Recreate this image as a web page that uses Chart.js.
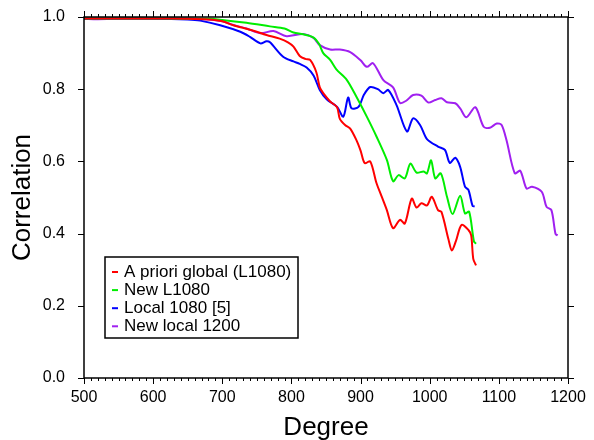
<!DOCTYPE html>
<html>
<head>
<meta charset="utf-8">
<script src="https://cdn.jsdelivr.net/npm/chart.js@4.4.0/dist/chart.umd.min.js"></script>
<style>
  html, body { margin: 0; padding: 0; background: #fff; }
  #wrap { width: 594px; height: 440px; }
</style>
</head>
<body>
<div id="wrap"><canvas id="chart" width="594" height="440"></canvas></div>
<script>
// Series (degree, correlation)
const seriesLabels = ['A priori global (L1080)', 'New L1080', 'Local 1080 [5]', 'New local 1200'];

const degRed = [500, 550, 600, 650, 680, 700, 716, 730, 745, 764, 783, 795, 803, 812, 820, 827, 836, 841, 846, 856, 866, 870, 878, 885, 894, 900, 906, 914, 923, 930, 938, 947, 957, 964, 974, 981, 988, 996, 1003, 1012, 1017, 1027, 1032, 1038, 1046, 1056, 1060, 1063, 1067];
const corrRed = [0.996, 0.996, 0.996, 0.995, 0.993, 0.988, 0.977, 0.970, 0.962, 0.950, 0.940, 0.930, 0.918, 0.892, 0.884, 0.881, 0.847, 0.805, 0.789, 0.766, 0.750, 0.718, 0.700, 0.691, 0.659, 0.630, 0.595, 0.600, 0.540, 0.505, 0.465, 0.415, 0.438, 0.428, 0.497, 0.472, 0.484, 0.478, 0.502, 0.465, 0.460, 0.385, 0.353, 0.380, 0.424, 0.410, 0.395, 0.330, 0.312];

const degGreen = [500, 600, 680, 700, 735, 769, 790, 803, 817, 832, 840, 846, 856, 865, 880, 894, 909, 923, 938, 947, 955, 964, 972, 981, 991, 996, 1002, 1008, 1016, 1025, 1033, 1044, 1051, 1057, 1064, 1067];
const corrGreen = [0.996, 0.996, 0.995, 0.992, 0.984, 0.974, 0.968, 0.957, 0.952, 0.943, 0.925, 0.900, 0.881, 0.855, 0.826, 0.779, 0.724, 0.669, 0.604, 0.545, 0.562, 0.553, 0.594, 0.569, 0.572, 0.567, 0.603, 0.553, 0.567, 0.502, 0.454, 0.505, 0.456, 0.461, 0.378, 0.372];

const degBlue = [500, 600, 650, 668, 697, 726, 740, 755, 764, 769, 788, 803, 812, 822, 832, 841, 851, 866, 875, 882, 887, 897, 905, 914, 925, 933, 940, 952, 967, 976, 986, 996, 1012, 1022, 1029, 1037, 1044, 1051, 1056, 1062, 1065];
const corrBlue = [0.995, 0.995, 0.993, 0.990, 0.977, 0.959, 0.945, 0.927, 0.933, 0.930, 0.890, 0.877, 0.870, 0.860, 0.838, 0.798, 0.772, 0.751, 0.724, 0.777, 0.747, 0.751, 0.785, 0.806, 0.800, 0.789, 0.798, 0.756, 0.683, 0.719, 0.701, 0.662, 0.641, 0.632, 0.596, 0.610, 0.585, 0.530, 0.521, 0.477, 0.475];

const degPurple = [500, 520, 560, 600, 640, 680, 700, 716, 735, 755, 774, 793, 817, 832, 841, 856, 870, 885, 900, 909, 918, 933, 947, 957, 966, 976, 988, 998, 1008, 1017, 1025, 1037, 1044, 1053, 1066, 1078, 1087, 1097, 1104, 1111, 1123, 1131, 1140, 1148, 1162, 1169, 1176, 1182, 1185];
const corrPurple = [0.995, 0.994, 0.996, 0.995, 0.996, 0.993, 0.988, 0.978, 0.968, 0.955, 0.961, 0.947, 0.953, 0.942, 0.922, 0.910, 0.910, 0.903, 0.880, 0.862, 0.872, 0.825, 0.805, 0.762, 0.768, 0.784, 0.782, 0.763, 0.770, 0.775, 0.764, 0.761, 0.747, 0.722, 0.750, 0.696, 0.693, 0.705, 0.701, 0.659, 0.567, 0.574, 0.525, 0.530, 0.516, 0.474, 0.465, 0.399, 0.395];

const seriesColors = ['#ff0000', '#00ee00', '#0000ff', '#a020f0'];

const xTicks = [500, 600, 700, 800, 900, 1000, 1100, 1200];
const yTicks = [0.0, 0.2, 0.4, 0.6, 0.8, 1.0];

const fontFamily = '"Liberation Sans", Arial, Helvetica, sans-serif';

function points(degs, vals) {
    return degs.map((d, i) => ({ x: d, y: vals[i] }));
}

// Frame, ticks on all four sides, and the boxed legend
const framePlugin = {
    id: 'frame',
    afterDraw(chart) {
        const { ctx, chartArea: a, scales: { x, y } } = chart;
        ctx.save();
        ctx.strokeStyle = '#000';
        ctx.lineWidth = 1.5;
        ctx.strokeRect(a.left, a.top, a.right - a.left, a.bottom - a.top);

        ctx.lineWidth = 1;
        ctx.beginPath();
        for (let d = 500; d <= 1200; d += 10) {
            const px = Math.round(x.getPixelForValue(d)) + 0.5;
            const len = d % 100 === 0 ? 6 : 3;
            ctx.moveTo(px, a.bottom); ctx.lineTo(px, a.bottom + len);
            ctx.moveTo(px, a.top); ctx.lineTo(px, a.top - len);
        }
        yTicks.forEach(v => {
            const py = Math.round(y.getPixelForValue(v)) + 0.5;
            ctx.moveTo(a.left, py); ctx.lineTo(a.left - 6, py);
            ctx.moveTo(a.right, py); ctx.lineTo(a.right + 6, py);
        });
        ctx.stroke();

        // legend
        const bx = 105, by = 257, bw = 193, bh = 81;
        ctx.fillStyle = '#fff';
        ctx.fillRect(bx, by, bw, bh);
        ctx.lineWidth = 1.5;
        ctx.strokeRect(bx, by, bw, bh);
        ctx.font = '17px ' + fontFamily;
        ctx.textBaseline = 'middle';
        seriesLabels.forEach((lab, i) => {
            const ry = by + 15 + i * 18.1;
            ctx.strokeStyle = seriesColors[i];
            ctx.lineWidth = 2;
            ctx.beginPath();
            ctx.moveTo(112, ry); ctx.lineTo(118, ry);
            ctx.stroke();
            ctx.fillStyle = '#000';
            ctx.fillText(lab, 124, ry);
        });
        ctx.restore();
    }
};

const datasets = [
    [degRed, corrRed],
    [degGreen, corrGreen],
    [degBlue, corrBlue],
    [degPurple, corrPurple]
].map(([d, v], i) => ({
    label: seriesLabels[i],
    data: points(d, v),
    borderColor: seriesColors[i],
    backgroundColor: seriesColors[i],
    borderWidth: 2,
    pointRadius: 0,
    tension: 0.3,
    fill: false
}));

new Chart(document.getElementById('chart'), {
    type: 'line',
    data: { datasets: datasets },
    options: {
        responsive: false,
        animation: false,
        layout: { padding: { top: 17, right: 26, left: 0, bottom: 0 } },
        plugins: {
            legend: { display: false },
            tooltip: { enabled: false }
        },
        scales: {
            x: {
                type: 'linear',
                min: 500,
                max: 1200,
                afterBuildTicks: s => { s.ticks = xTicks.map(v => ({ value: v })); },
                afterFit: s => { s.height = 62; s.paddingRight = 0; s.paddingLeft = 0; },
                grid: { display: false },
                border: { display: false },
                ticks: {
                    color: '#000',
                    padding: 2,
                    callback: v => String(v),
                    font: { family: fontFamily, size: 16 },
                    maxRotation: 0
                },
                title: {
                    display: true,
                    text: 'Degree',
                    color: '#000',
                    padding: { top: 0, bottom: -1 },
                    font: { family: fontFamily, size: 26, lineHeight: 1.0 }
                }
            },
            y: {
                min: 0,
                max: 1,
                afterBuildTicks: s => { s.ticks = yTicks.map(v => ({ value: v })); },
                afterFit: s => { s.width = 84; s.paddingTop = 0; s.paddingBottom = 0; },
                grid: { display: false },
                border: { display: false },
                ticks: {
                    color: '#000',
                    padding: 11,
                    callback: v => Number(v).toFixed(1),
                    font: { family: fontFamily, size: 16 }
                },
                title: {
                    display: true,
                    text: 'Correlation',
                    color: '#000',
                    padding: { top: 10, bottom: 0 },
                    font: { family: fontFamily, size: 26, lineHeight: 1.0 }
                }
            }
        }
    },
    plugins: [framePlugin]
});
</script>
</body>
</html>
